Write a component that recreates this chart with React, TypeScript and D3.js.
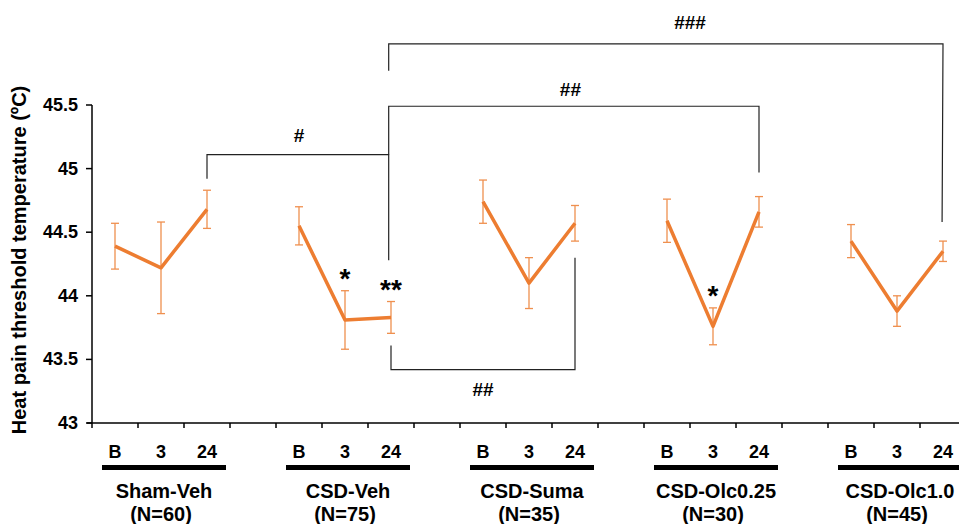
import React from 'react';
import * as d3 from 'd3';

const groups = ['Sham-Veh', 'CSD-Veh', 'CSD-Suma', 'CSD-Olc0.25', 'CSD-Olc1.0'];
const groupN = ['(N=60)', '(N=75)', '(N=35)', '(N=30)', '(N=45)'];
const timepoints = ['B', '3', '24'];
const means = [
  [44.39, 44.22, 44.68],
  [44.55, 43.81, 43.83],
  [44.74, 44.1, 44.57],
  [44.59, 43.76, 44.66],
  [44.43, 43.88, 44.35],
];
const errors = [
  [0.18, 0.36, 0.15],
  [0.15, 0.23, 0.125],
  [0.17, 0.2, 0.14],
  [0.17, 0.145, 0.12],
  [0.13, 0.12, 0.08],
];
const yTicks = [43, 43.5, 44, 44.5, 45, 45.5];
const stars = [
  { group: 1, time: 1, label: '*' },
  { group: 1, time: 2, label: '**' },
  { group: 3, time: 1, label: '*' },
];
// bracket paths in (slot, value) units; slot = group*4 + time
const brackets = [
  { label: '#', pts: [[2, 44.92], [2, 45.11], [5.95, 45.11], [5.95, 44.28]], lab: [4, 45.26] },
  { label: '##', pts: [[5.95, 45.11], [5.95, 45.49], [14, 45.49], [14, 44.97]], lab: [9.9, 45.62] },
  { label: '###', pts: [[5.95, 45.77], [5.95, 45.98], [18, 45.98], [17.98, 44.58]], lab: [12.5, 46.15] },
  { label: '##', pts: [[6, 43.61], [6, 43.42], [10, 43.42], [10, 44.3]], lab: [8, 43.26] },
];

const W = 959;
const H = 524;
const FONT = '"Liberation Sans", Arial, Helvetica, sans-serif';
const ORANGE = '#ED7D31';

export default function App() {
  const axisX = 92;
  const step = 46;
  const x = d3.scaleLinear().domain([-0.5, 19.5]).range([axisX, axisX + 20 * step]);
  const y = d3.scaleLinear().domain([43, 45.5]).range([423, 105]);
  const line = d3
    .line<[number, number]>()
    .x((d) => x(d[0]))
    .y((d) => y(d[1]));
  const tickSlots = d3.range(0, 20).map((i) => i - 0.5);

  return (
    <svg
      width={W}
      height={H}
      style={{ position: 'absolute', left: 0, top: 0, background: '#fff' }}
      fontFamily={FONT}
    >
      <rect width={W} height={H} fill="#fff" />
      {/* y axis */}
      <line x1={axisX} x2={axisX} y1={y(45.5)} y2={y(43)} stroke="#000" strokeWidth={1.5} />
      {yTicks.map((t) => (
        <g key={t}>
          <line x1={axisX - 6} x2={axisX} y1={y(t)} y2={y(t)} stroke="#000" strokeWidth={1.5} />
          <text
            x={78}
            y={y(t)}
            textAnchor="end"
            dominantBaseline="central"
            fontSize={18}
            fontWeight="bold"
          >
            {t}
          </text>
        </g>
      ))}
      <text
        transform={`translate(19,260) rotate(-90)`}
        textAnchor="middle"
        dominantBaseline="central"
        fontSize={20}
        fontWeight="bold"
      >
        Heat pain threshold temperature (ºC)
      </text>
      {/* x axis */}
      <line x1={axisX - 5} x2={W} y1={y(43)} y2={y(43)} stroke="#000" strokeWidth={1.5} />
      {tickSlots.map((s) => (
        <line key={s} x1={x(s)} x2={x(s)} y1={y(43)} y2={y(43) + 5} stroke="#000" strokeWidth={1.5} />
      ))}
      {/* brackets */}
      {brackets.map((b, i) => (
        <g key={i}>
          <path d={line(b.pts as [number, number][]) || ''} fill="none" stroke="#222" strokeWidth={1.2} />
          <text
            x={x(b.lab[0])}
            y={y(b.lab[1])}
            textAnchor="middle"
            dominantBaseline="central"
            fontSize={19}
            fontWeight="bold"
          >
            {b.label}
          </text>
        </g>
      ))}
      {/* series */}
      {groups.map((g, gi) => {
        const pts: [number, number][] = timepoints.map((_, ti) => [gi * 4 + ti, means[gi][ti]]);
        return (
          <g key={g}>
            {pts.map((p, ti) => {
              const e = errors[gi][ti];
              const cx = x(p[0]);
              return (
                <g key={ti} stroke={ORANGE} strokeWidth={1.3} opacity={0.85}>
                  <line x1={cx} x2={cx} y1={y(p[1] + e)} y2={y(p[1] - e)} />
                  <line x1={cx - 4} x2={cx + 4} y1={y(p[1] + e)} y2={y(p[1] + e)} />
                  <line x1={cx - 4} x2={cx + 4} y1={y(p[1] - e)} y2={y(p[1] - e)} />
                </g>
              );
            })}
            <path d={line(pts) || ''} fill="none" stroke={ORANGE} strokeWidth={3.5} strokeLinejoin="round" />
            {timepoints.map((t, ti) => (
              <text
                key={t}
                x={x(gi * 4 + ti)}
                y={458}
                textAnchor="middle"
                fontSize={18}
                fontWeight="bold"
              >
                {t}
              </text>
            ))}
            <rect
              x={x(gi * 4) - 13}
              y={465}
              width={x(gi * 4 + 2) - x(gi * 4) + 32}
              height={5}
              fill="#000"
            />
            <text x={x(gi * 4 + 1) + 3} y={498} textAnchor="middle" fontSize={20} fontWeight="bold">
              {g}
            </text>
            <text x={x(gi * 4 + 1)} y={521} textAnchor="middle" fontSize={20} fontWeight="bold">
              {groupN[gi]}
            </text>
          </g>
        );
      })}
      {/* significance stars */}
      {stars.map((s, i) => {
        const v = means[s.group][s.time] + errors[s.group][s.time];
        return (
          <text
            key={i}
            x={x(s.group * 4 + s.time)}
            y={y(v) - 3}
            textAnchor="middle"
            fontSize={28}
            fontWeight="bold"
          >
            {s.label}
          </text>
        );
      })}
    </svg>
  );
}
